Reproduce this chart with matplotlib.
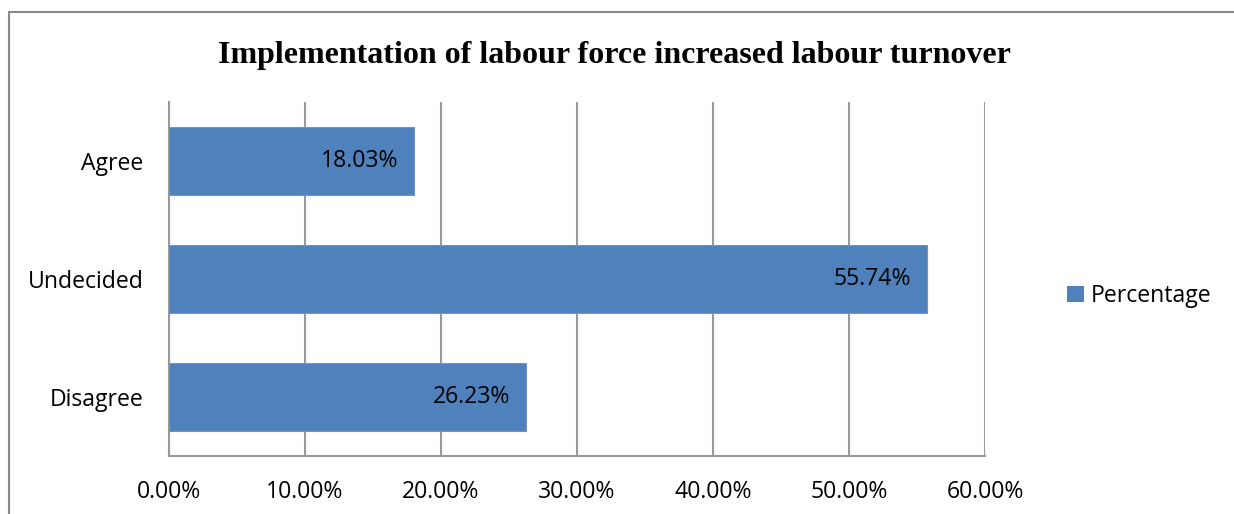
import matplotlib
matplotlib.use("Agg")
import matplotlib.pyplot as plt
from matplotlib.patches import Rectangle, Patch

categories = ["Agree", "Undecided", "Disagree"]
values = [18.03, 55.74, 26.23]
xticks = [0, 10, 20, 30, 40, 50, 60]
title = "Implementation of labour force increased labour turnover"
series_name = "Percentage"

W, H = 1234, 514
fig = plt.figure(figsize=(W / 100, H / 100), dpi=100)
sans = ["Open Sans", "DejaVu Sans"]
fs = 16.6
bar_color = "#4F81BD"
grid_color = "#999999"

# outer border (right and bottom edges fall outside the picture)
fig.patches.append(Rectangle((9 / W, -0.1), 1.2, 1.1 - 12 / H,
                             transform=fig.transFigure, fill=False,
                             edgecolor="#888888", linewidth=1.5))

ax = fig.add_axes([169 / W, 1 - 456 / H, (985 - 169) / W, (456 - 102) / H])
y = list(range(len(categories)))
bars = ax.barh(y, values, height=0.57, color=bar_color, edgecolor="#6E95C8", linewidth=0.8, zorder=3)
ax.set_ylim(len(categories) - 0.5, -0.5)
ax.set_xlim(0, 60)
ax.set_xticks(xticks)
ax.set_xticklabels([f"{t:.2f}%" for t in xticks], fontfamily=sans, fontsize=fs)
ax.set_yticks(y)
ax.set_yticklabels(categories, fontfamily=sans, fontsize=fs)
ax.tick_params(length=0)
ax.tick_params(axis="x", pad=17.5)
ax.tick_params(axis="y", pad=18.5)
ax.grid(axis="x", color=grid_color, linewidth=1.5, zorder=0)
for side in ["top", "right"]:
    ax.spines[side].set_visible(False)
for side in ["left", "bottom"]:
    ax.spines[side].set_color(grid_color)
    ax.spines[side].set_linewidth(1.5)

for b, v in zip(bars, values):
    ax.annotate(f"{v:.2f}%", xy=(v, b.get_y() + b.get_height() / 2),
                xytext=(-11.5, 0), textcoords="offset points",
                ha="right", va="center", fontfamily=sans, fontsize=fs, zorder=4)

fig.text(614 / W, 1 - 55 / H, title, ha="center", va="center",
         fontfamily="Liberation Serif", fontweight="bold", fontsize=23)

fig.legend(handles=[Patch(facecolor=bar_color, label=series_name)],
           loc="center left", bbox_to_anchor=(1046 / W, 1 - 296 / H),
           frameon=False, prop={"family": sans, "size": fs},
           handlelength=0.75, handleheight=0.75, handletextpad=0.3)

fig.savefig("out.png", dpi=100)
